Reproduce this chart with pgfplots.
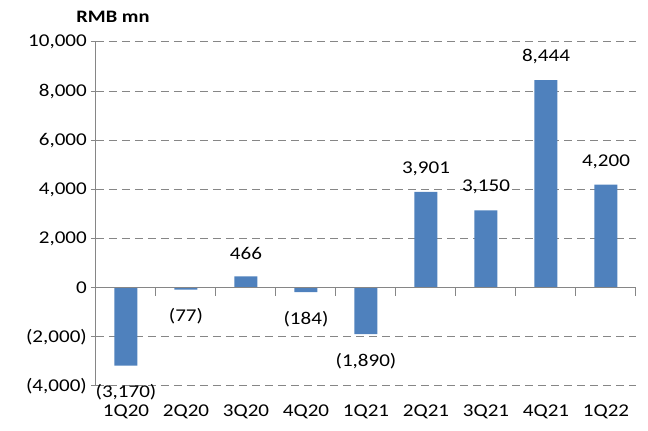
\documentclass[border=0pt]{standalone}
\usepackage{pgfplots}
\pgfplotsset{compat=1.18}
\usepackage{fontspec}
\setmainfont[FakeStretch=1.17]{Carlito}
\definecolor{barblue}{HTML}{4F81BD}
\definecolor{axgray}{HTML}{868686}
\begin{document}
\fontsize{18}{21}\selectfont
\begin{tikzpicture}
\useasboundingbox (-96pt,-45pt) rectangle (552pt,386pt);
\begin{axis}[
  at={(0,0)}, anchor=south west,
  scale only axis, width=540pt, height=344pt,
  xmin=-0.5, xmax=8.5, ymin=-4000, ymax=10000,
  axis x line=none,
  axis y line*=left,
  y axis line style={axgray, line width=1pt, -},
  scaled y ticks=false,
  ytick={-4000,-2000,0,2000,4000,6000,8000,10000},
  yticklabels={{(4,000)},{(2,000)},0,{2,000},{4,000},{6,000},{8,000},{10,000}},
  ymajorgrids,
  grid style={axgray, line width=1pt, dash pattern=on 8pt off 5pt},
  y tick style={axgray, line width=1pt},
  major tick length=10pt, tick align=center,
  yticklabel style={font=\fontsize{18}{21}\selectfont, xshift=2pt},
  ybar, bar width=23pt, bar shift=0pt,
  nodes near coords,
  point meta=explicit symbolic,
  nodes near coords style={font=\fontsize{18}{21}\selectfont, inner ysep=16pt, text=black},
  clip=false,
]
\addplot[fill=barblue, draw=none, nodes near coords style={anchor=south}] table[x=x, y=y, meta=lab] {
x y lab
2 466 466
5 3901 3,901
6 3150 3,150
7 8444 8,444
8 4200 4,200
};
\addplot[fill=barblue, draw=none, nodes near coords style={anchor=north, yshift=-2.5pt}] table[x=x, y=y, meta=lab] {
x y lab
0 -3170 (3,170)
1 -77 (77)
3 -184 (184)
4 -1890 (1,890)
};
\draw[axgray, line width=1pt] (axis cs:-0.5,0) -- (axis cs:8.5,0);
\pgfplotsinvokeforeach{-0.5,0.5,1.5,2.5,3.5,4.5,5.5,6.5,7.5,8.5}{
  \draw[axgray, line width=1pt] (axis cs:#1,0) -- ++(0pt,-8pt);
}
\end{axis}
\node[font=\bfseries\fontsize{17.5}{20}\selectfont] at (17pt,369pt) {RMB mn};
\foreach \i/\l in {0/1Q20,1/2Q20,2/3Q20,3/4Q20,4/1Q21,5/2Q21,6/3Q21,7/4Q21,8/1Q22}{
  \node[font=\fontsize{18}{21}\selectfont] at ({30pt+60pt*\i},-25.5pt) {\l};
}
\end{tikzpicture}
\end{document}
